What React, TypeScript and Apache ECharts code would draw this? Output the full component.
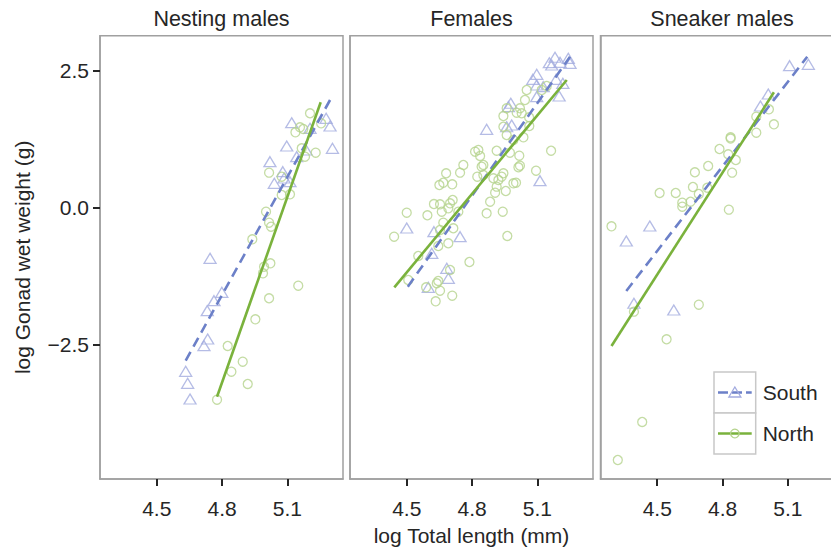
import React, { useEffect, useRef } from "react";
import * as echarts from "echarts";

// ---- Data ----
const panelTitles = ["Nesting males", "Females", "Sneaker males"];
const xTicks = [4.5, 4.8, 5.1];
const yTicks = [-2.5, 0, 2.5];
const legendLabels = ["South", "North"];

// Nesting males
const nestSouth: [number, number][] = [
  [5.12, 1.548], [5.278, 1.628], [5.296, 1.488], [5.204, 1.446], [5.097, 1.124],
  [5.307, 1.082], [5.143, 0.929], [5.186, 1.051], [5.02, 0.838], [5.079, 0.656],
  [5.04, 0.444], [5.112, 0.474], [5.085, 0.541], [4.745, -0.922], [4.799, -1.541],
  [4.763, -1.694], [4.732, -1.876], [4.734, -2.392], [4.717, -2.514], [4.633, -2.98],
  [4.642, -3.199], [4.653, -3.485],
];
const nestNorth: [number, number][] = [
  [5.204, 1.72], [5.255, 1.537], [5.158, 1.464], [5.173, 1.434], [5.137, 1.373],
  [5.166, 1.082], [5.181, 0.929], [5.23, 1.002], [5.016, 0.638], [5.074, 0.565],
  [5.074, 0.231], [5.112, 0.244], [5.002, -0.073], [5.016, -0.273], [5.025, -0.346],
  [4.939, -0.576], [4.993, -1.075], [5.022, -1.013], [4.988, -1.195], [5.15, -1.421],
  [5.016, -1.65], [4.953, -2.033], [4.826, -2.519], [4.895, -2.805], [4.843, -2.987],
  [4.918, -3.211], [4.777, -3.497],
];
const nestSouthFit: [number, number][] = [[4.633, -2.787], [5.307, 2.04]];
const nestNorthFit: [number, number][] = [[4.777, -3.443], [5.253, 1.92]];

// Females
const femSouth: [number, number][] = [
  [5.181, 2.74], [5.242, 2.721], [5.155, 2.641], [5.25, 2.63], [5.204, 2.648],
  [5.166, 2.599], [5.097, 2.43], [5.079, 2.339], [5.186, 2.339], [5.097, 2.235],
  [5.127, 2.204], [5.217, 2.266], [5.2, 2.035], [5.097, 2.022], [4.978, 1.902],
  [4.967, 1.84], [4.867, 1.428], [4.959, 1.475], [4.982, 1.506], [5.112, 0.492],
  [4.5, -0.37], [4.625, -0.437], [4.745, -0.528], [4.615, -0.831], [4.684, -1.104],
  [4.691, -1.286], [4.599, -1.45],
];
const femNorth: [number, number][] = [
  [5.051, 2.144], [5.043, 1.962], [5.12, 2.144], [5.143, 2.217], [4.959, 1.811],
  [5.02, 1.811], [5.005, 1.73], [4.944, 1.67], [5.028, 1.72], [5.062, 1.647],
  [4.944, 1.475], [5.063, 1.488], [4.959, 1.324], [5.036, 1.282], [4.99, 1.233],
  [4.913, 1.038], [5.163, 1.038], [4.974, 1.002], [5.017, 0.947], [4.814, 1.02],
  [4.829, 1.051], [4.837, 0.942], [4.76, 0.778], [4.852, 0.778], [4.844, 0.747],
  [5.02, 0.765], [5.013, 0.736], [4.745, 0.638], [4.681, 0.627], [4.824, 0.565],
  [4.852, 0.596], [4.944, 0.627], [4.936, 0.565], [5.094, 0.674], [4.898, 0.536],
  [4.921, 0.505], [4.668, 0.455], [4.65, 0.413], [4.709, 0.426], [4.99, 0.444],
  [5.002, 0.455], [4.913, 0.383], [4.906, 0.273], [4.955, 0.304], [4.711, 0.14],
  [4.625, 0.067], [4.653, 0.062], [4.699, 0.08], [4.883, 0.109], [4.661, -0.073],
  [4.691, -0.011], [4.737, -0.073], [4.867, -0.102], [4.941, -0.073], [4.5, -0.091],
  [4.595, -0.138], [4.668, -0.273], [4.714, -0.375], [4.653, -0.406], [4.442, -0.528],
  [4.962, -0.515], [4.691, -0.648], [4.645, -0.698], [4.553, -0.88], [4.788, -0.989],
  [4.699, -1.135], [4.507, -1.317], [4.645, -1.335], [4.638, -1.377], [4.589, -1.45],
  [4.653, -1.512], [4.709, -1.603], [4.633, -1.705],
];
const femSouthFit: [number, number][] = [[4.505, -1.439], [5.25, 2.75]];
const femNorthFit: [number, number][] = [[4.443, -1.45], [5.235, 2.326]];

// Sneaker males
const snkSouth: [number, number][] = [
  [5.108, 2.587], [5.194, 2.612], [5.01, 2.071], [4.974, 1.852], [4.466, -0.333],
  [4.358, -0.607], [4.393, -1.741], [4.576, -1.863],
];
const snkNorth: [number, number][] = [
  [5.013, 1.792], [4.955, 1.658], [5.036, 1.519], [4.955, 1.366], [4.837, 1.282],
  [4.837, 1.26], [4.786, 1.069], [4.826, 0.973], [4.861, 0.869], [4.734, 0.76],
  [4.673, 0.645], [4.844, 0.638], [4.664, 0.377], [4.73, 0.364], [4.691, 0.25],
  [4.511, 0.268], [4.585, 0.268], [4.653, 0.109], [4.615, 0.091], [4.615, 0.018],
  [4.829, -0.036], [4.29, -0.339], [4.393, -1.894], [4.691, -1.767], [4.543, -2.397],
  [4.431, -3.903], [4.319, -4.596],
];
const snkSouthFit: [number, number][] = [[4.358, -1.517], [5.189, 2.75]];
const snkNorthFit: [number, number][] = [[4.29, -2.519], [5.036, 2.102]];

const panelSouth = [nestSouth, femSouth, snkSouth];
const panelNorth = [nestNorth, femNorth, snkNorth];
const panelSouthFit = [nestSouthFit, femSouthFit, snkSouthFit];
const panelNorthFit = [nestNorthFit, femNorthFit, snkNorthFit];

// ---- Styling ----
const FONT = '"Liberation Sans", Arial, Helvetica, sans-serif';
const TXT = "#262626";
const SOUTH_LINE = "#6c80c8";
const SOUTH_PT = "#a3abdf";
const NORTH_LINE = "#7ab23c";
const NORTH_PT = "#b5d38d";
const FRAME = "#a0a0a0";
const FS = 21;

const gridLefts = [100, 350, 600.5];
const gridTop = 35.7;
const gridW = 243;
const gridH = 443.3;
const X_MIN = 4.2395;
const X_MAX = 5.3555;
const Y_MIN = -4.942;
const Y_MAX = 3.133;

const fmt = (v: number) => {
  if (Math.abs(v) < 1e-9) return "0.0";
  return (v < 0 ? "\u2212" : "") + Math.abs(v).toFixed(1);
};

export default function App() {
  const ref = useRef<HTMLDivElement>(null);
  useEffect(() => {
    if (!ref.current) return;
    const chart = echarts.init(ref.current, undefined, { renderer: "svg" });

    const grid = gridLefts.map((l) => ({
      left: l,
      top: gridTop,
      width: gridW,
      height: gridH,
      show: true,
      borderColor: FRAME,
      borderWidth: 1.5,
      containLabel: false,
      outerBoundsMode: "none",
    }));

    const xAxis = gridLefts.map((_, i) => ({
      type: "value",
      gridIndex: i,
      min: X_MIN,
      max: X_MAX,
      axisLine: { show: true, onZero: false, lineStyle: { color: FRAME, width: 1.5 } },
      splitLine: { show: false },
      axisTick: {
        show: true,
        customValues: xTicks,
        length: 7,
        lineStyle: { color: TXT, width: 2 },
      },
      axisLabel: {
        customValues: xTicks,
        formatter: (v: number) => fmt(v),
        fontSize: FS,
        fontFamily: FONT,
        color: TXT,
        margin: 19,
      },
    }));

    const yAxis = gridLefts.map((_, i) => ({
      type: "value",
      gridIndex: i,
      min: Y_MIN,
      max: Y_MAX,
      axisLine: { show: true, onZero: false, lineStyle: { color: FRAME, width: 1.5 } },
      splitLine: { show: false },
      axisTick: {
        show: i === 0,
        customValues: yTicks,
        length: 7,
        lineStyle: { color: TXT, width: 2 },
      },
      axisLabel: {
        show: i === 0,
        customValues: yTicks,
        formatter: (v: number) => fmt(v),
        fontSize: FS,
        fontFamily: FONT,
        color: TXT,
        margin: 11,
      },
    }));

    const series: any[] = [];
    for (let i = 0; i < 3; i++) {
      series.push({
        type: "scatter",
        xAxisIndex: i,
        yAxisIndex: i,
        data: panelSouth[i],
        symbol: "triangle",
        symbolSize: [12, 10],
        itemStyle: { color: "rgba(255,255,255,0)", borderColor: SOUTH_PT, borderWidth: 1.3 },
      });
      series.push({
        type: "scatter",
        xAxisIndex: i,
        yAxisIndex: i,
        data: panelNorth[i],
        symbol: "circle",
        symbolSize: 9,
        itemStyle: { color: "rgba(255,255,255,0)", borderColor: NORTH_PT, borderWidth: 1.3 },
      });
      series.push({
        type: "line",
        xAxisIndex: i,
        yAxisIndex: i,
        data: panelSouthFit[i],
        showSymbol: false,
        lineStyle: { color: SOUTH_LINE, width: 2.6, type: [10, 6] },
        z: 3,
      });
      series.push({
        type: "line",
        xAxisIndex: i,
        yAxisIndex: i,
        data: panelNorthFit[i],
        showSymbol: false,
        lineStyle: { color: NORTH_LINE, width: 2.6, type: "solid" },
        z: 4,
      });
    }

    const titleGraphics = panelTitles.map((t, i) => ({
      type: "text",
      x: gridLefts[i] + gridW / 2,
      y: 19,
      style: {
        text: t,
        fontSize: 21.5,
        fontFamily: FONT,
        fill: TXT,
        textAlign: "center",
        textVerticalAlign: "middle",
      },
    }));

    const lx = 714;
    const lw = 41.7;
    const ly = 372;
    const lh = 41;
    const legendGraphics: any[] = [
      { type: "rect", shape: { x: lx, y: ly, width: lw, height: lh }, style: { fill: "#fff", stroke: "#c8c8c8", lineWidth: 1.5 }, z: 10 },
      { type: "rect", shape: { x: lx, y: ly + lh, width: lw, height: lh }, style: { fill: "#fff", stroke: "#c8c8c8", lineWidth: 1.5 }, z: 10 },
      { type: "line", shape: { x1: lx + 4, y1: ly + lh / 2, x2: lx + lw - 4, y2: ly + lh / 2 }, style: { stroke: SOUTH_LINE, lineWidth: 2.6, lineDash: [10, 4] }, z: 11 },
      {
        type: "polygon",
        shape: { points: [[lx + lw / 2, ly + lh / 2 - 5.5], [lx + lw / 2 - 6, ly + lh / 2 + 4.5], [lx + lw / 2 + 6, ly + lh / 2 + 4.5]] },
        style: { fill: "none", stroke: SOUTH_PT, lineWidth: 1.3 },
        z: 12,
      },
      { type: "line", shape: { x1: lx + 4, y1: ly + lh * 1.5, x2: lx + lw - 4, y2: ly + lh * 1.5 }, style: { stroke: NORTH_LINE, lineWidth: 2.6 }, z: 11 },
      { type: "circle", shape: { cx: lx + lw / 2, cy: ly + lh * 1.5, r: 4.3 }, style: { fill: "none", stroke: NORTH_PT, lineWidth: 1.3 }, z: 12 },
      {
        type: "text", x: lx + lw + 7, y: ly + lh / 2,
        style: { text: legendLabels[0], fontSize: FS, fontFamily: FONT, fill: TXT, textAlign: "left", textVerticalAlign: "middle" }, z: 12,
      },
      {
        type: "text", x: lx + lw + 7, y: ly + lh * 1.5,
        style: { text: legendLabels[1], fontSize: FS, fontFamily: FONT, fill: TXT, textAlign: "left", textVerticalAlign: "middle" }, z: 12,
      },
    ];

    const axisNames: any[] = [
      {
        type: "text",
        x: 22,
        y: gridTop + gridH / 2,
        rotation: Math.PI / 2,
        style: {
          text: "log Gonad wet weight (g)",
          fontSize: FS,
          fontFamily: FONT,
          fill: TXT,
          textAlign: "center",
          textVerticalAlign: "middle",
        },
      },
      {
        type: "text",
        x: gridLefts[1] + gridW / 2,
        y: 535,
        style: {
          text: "log Total length (mm)",
          fontSize: FS,
          fontFamily: FONT,
          fill: TXT,
          textAlign: "center",
          textVerticalAlign: "middle",
        },
      },
    ];

    chart.setOption({
      animation: false,
      backgroundColor: "#ffffff",
      grid,
      xAxis,
      yAxis,
      series,
      graphic: [...titleGraphics, ...axisNames, ...legendGraphics],
    });

    return () => chart.dispose();
  }, []);

  return (
    <div
      ref={ref}
      style={{ position: "fixed", left: 0, top: 0, width: 860, height: 548 }}
    />
  );
}
